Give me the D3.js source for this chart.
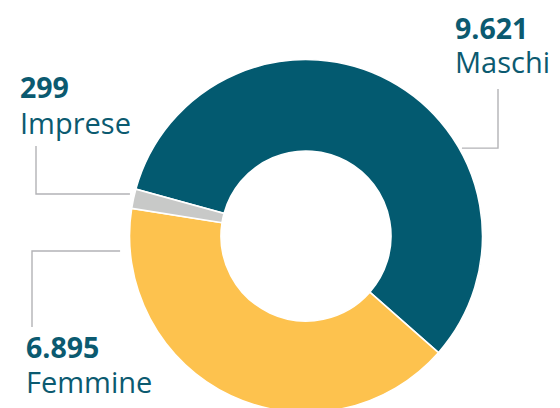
<!DOCTYPE html>
<html>
  <head>
    <meta charset="utf-8">
    <title>Maschi, Femmine, Imprese</title>
    <script src="https://d3js.org/d3.v7.min.js"></script>
    <style>
      body { margin: 0; background: #fff; }
      svg { display: block; font-family: "Open Sans", sans-serif; }
      .slice { stroke: #fff; stroke-width: 1.6; }
      .leader { fill: none; stroke: #b3b3b6; stroke-width: 1.4; }
      .value { font-weight: 700; fill: #0b5a70; font-size: 28.5px; }
      .name { font-weight: 400; fill: #0b5a70; font-size: 29px; }
    </style>
  </head>
  <body>
    <svg id="chart" width="560" height="408"></svg>
    <script>
      // chart data
      var categories = ["Maschi", "Femmine", "Imprese"];
      var values = [9621, 6895, 299];
      var colours = ["#035a70", "#fdc24e", "#c8c9c8"];

      // label layout: where the leader line meets the ring, its elbow, and the text anchor
      var labelLayout = [
        { angle: 60.6, radius: 179, elbowX: 498, endY: 89, textX: 455, valueY: 39, nameY: 73 },
        { angle: -94.6, radius: 186.5, elbowX: 32, endY: 327, textX: 26, valueY: 358, nameY: 393 },
        { angle: -76.6, radius: 181, elbowX: 36, endY: 146, textX: 20, valueY: 98, nameY: 134 }
      ];

      var cx = 306, cy = 236;
      var outer = 176.5, inner = 85;
      var startDeg = -74.6;

      var svg = d3.select("#chart");
      var g = svg.append("g").attr("transform", "translate(" + cx + "," + cy + ")");

      var pie = d3.pie()
        .sort(null)
        .value(function(d) { return d; })
        .startAngle(startDeg * Math.PI / 180)
        .endAngle(startDeg * Math.PI / 180 + 2 * Math.PI);
      var arc = d3.arc().innerRadius(inner).outerRadius(outer);

      var colour = d3.scaleOrdinal().domain(categories).range(colours);

      g.selectAll(".slice")
        .data(pie(values))
        .enter().append("path")
          .classed("slice", true)
          .attr("d", arc)
          .style("fill", function(d, i) { return colour(categories[i]); });

      // leader lines and labels
      var fmt = d3.formatLocale({ decimal: ",", thousands: ".", grouping: [3], currency: ["", "€"] }).format(",.0f");
      labelLayout.forEach(function(l, i) {
        var p = d3.pointRadial(l.angle * Math.PI / 180, l.radius);
        var x0 = cx + p[0], y0 = cy + p[1];
        svg.append("path")
          .classed("leader", true)
          .attr("d", d3.line()([[x0, y0], [l.elbowX, y0], [l.elbowX, l.endY]]));
        svg.append("text")
          .classed("value", true)
          .attr("x", l.textX)
          .attr("y", l.valueY)
          .text(fmt(values[i]));
        svg.append("text")
          .classed("name", true)
          .attr("x", l.textX)
          .attr("y", l.nameY)
          .text(categories[i]);
      });
    </script>
  </body>
</html>
